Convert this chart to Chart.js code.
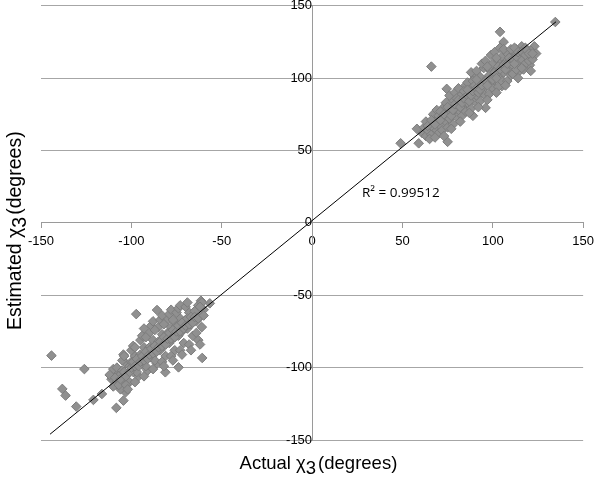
<!DOCTYPE html>
<html>
<head>
<meta charset="utf-8">
<script src="https://cdn.jsdelivr.net/npm/chart.js@4"></script>
<style>
  body { margin: 0; background: #fff; }
  #wrap { width: 600px; height: 481px; }
</style>
</head>
<body>
<div id="wrap"><canvas id="grafico"></canvas></div>
<script>
// tick labels
var xTicks = [-150, -100, -50, 0, 50, 100, 150];
var yTicks = [-150, -100, -50, 0, 50, 100, 150];

// upper cluster (positive angles)
var upperX = [134.6, 104, 106, 123, 66, 74.5, 96, 49, 120.5, 116, 75, 58, 59, 114, 105, 89,
  61, 62, 63, 64, 65, 63, 66, 65,
  67, 68, 69, 70, 67, 69, 70, 68, 70,
  71, 72, 73, 74, 75, 72, 74, 75, 73, 71,
  76, 77, 78, 79, 80, 76, 78, 80, 77, 79, 80,
  81, 82, 83, 84, 85, 81, 83, 85, 82, 84, 85,
  86, 87, 88, 89, 90, 86, 88, 90, 87, 89, 90, 88,
  91, 92, 93, 94, 95, 91, 93, 95, 92, 94, 95, 93,
  96, 97, 98, 99, 100, 96, 98, 100, 97, 99, 100, 98,
  101, 102, 103, 104, 105, 101, 103, 105, 102, 104, 105, 103,
  106, 107, 108, 109, 110, 106, 108, 110, 107, 109, 110,
  111, 112, 113, 114, 115, 111, 113, 115, 112, 114,
  116, 117, 118, 119, 120, 117, 121, 118, 116, 122, 124, 121,
  64, 66, 68, 71, 73, 75, 77, 78, 79, 81, 82, 83, 84, 86, 87, 88, 89, 90, 91, 92,
  93, 94, 96, 97, 98, 99, 100, 101, 102, 103, 104, 106, 107, 108, 109, 111, 112, 113,
  114, 116, 118, 119, 120, 122, 97, 102, 91, 86];
var upperY = [138.8, 132, 125, 122, 108, 92.6, 79.5, 55, 109, 122, 56, 65, 55, 104, 94.5, 74,
  62, 66, 60, 64, 68, 70, 61, 58,
  66, 72, 64, 69, 75, 78, 62, 59, 74,
  67, 73, 80, 70, 76, 64, 83, 66, 60, 77,
  72, 79, 85, 75, 81, 88, 68, 73, 65, 90, 86,
  78, 84, 89, 80, 86, 93, 74, 95, 70, 91, 77,
  83, 89, 94, 85, 91, 97, 79, 100, 76, 98, 84, 104,
  88, 95, 101, 90, 97, 105, 84, 107, 80, 110, 89, 96,
  94, 100, 106, 96, 103, 112, 89, 110, 85, 116, 93, 99,
  99, 106, 112, 101, 108, 118, 94, 115, 90, 121, 98, 104,
  104, 111, 117, 106, 113, 120, 98, 120, 95, 110, 102,
  109, 115, 120, 110, 117, 103, 106, 112, 121, 100,
  113, 118, 110, 115, 112, 106, 119, 121, 107, 113, 117, 105,
  67, 71, 68, 71, 75, 80, 74, 78, 82, 85, 80, 83, 86, 88, 84, 88, 91, 95, 93, 90,
  92, 95, 98, 95, 102, 100, 99, 104, 100, 108, 106, 109, 106, 110, 114, 113, 110, 115,
  118, 118, 116, 119, 117, 117, 108, 114, 99, 92];

// lower cluster (negative angles)
var lowerX = [-144.2, -126, -138.2, -136.4, -130.5, -121, -116.3, -108.3, -104.4, -97.3, -85.8, -61.5, -60.8, -73.9, -81.2, -104.4, -103.2, -56.6,
  -111, -110, -109, -108, -107, -106, -110, -108, -107, -112,
  -105, -104, -103, -102, -101, -105, -103, -101, -104, -102,
  -100, -99, -98, -97, -96, -100, -98, -96, -99, -97,
  -95, -94, -93, -92, -91, -95, -93, -91, -94, -92, -93,
  -90, -89, -88, -87, -86, -90, -88, -86, -89, -87, -88,
  -85, -84, -83, -82, -81, -85, -83, -81, -84, -82, -83,
  -80, -79, -78, -77, -76, -80, -78, -76, -79, -77, -78,
  -75, -74, -73, -72, -71, -75, -73, -71, -74, -72, -73,
  -70, -69, -68, -67, -66, -70, -68, -66, -69, -67,
  -65, -64, -63, -62, -61, -64, -60, -63, -61, -62,
  -109, -106, -104, -103, -101, -100, -99, -98, -97, -96, -95, -94, -93, -92, -91, -90,
  -89, -88, -87, -86, -85, -84, -83, -82, -81, -80, -79, -78, -77, -76, -75, -74,
  -73, -72, -71, -70, -69, -68, -67, -66, -65, -63, -62, -60, -87, -82, -77, -92, -98];
var lowerY = [-91.7, -101, -114.7, -119.3, -126.9, -122.3, -118.2, -127.8, -122.8, -63, -60.2, -53.8, -93.3, -99.8, -103.2, -91, -117, -55.6,
  -108, -113, -104, -110, -106, -115, -101, -100, -112, -105,
  -102, -108, -97, -104, -110, -95, -112, -99, -92, -115,
  -96, -103, -92, -99, -106, -88, -110, -94, -85, -103,
  -91, -98, -86, -95, -102, -81, -106, -89, -78, -99, -73,
  -86, -93, -81, -90, -97, -76, -101, -84, -71, -95, -68,
  -82, -88, -77, -85, -92, -72, -96, -79, -67, -99, -64,
  -76, -83, -72, -80, -88, -67, -92, -74, -63, -95, -60,
  -71, -78, -66, -75, -83, -62, -88, -69, -59, -91, -57,
  -67, -73, -62, -70, -78, -58, -84, -64, -55, -88,
  -61, -68, -57, -65, -72, -76, -60, -81, -55, -84,
  -107, -108, -103, -106, -103, -100, -96, -99, -94, -99, -96, -92, -95, -89, -94, -91,
  -87, -90, -85, -89, -86, -82, -85, -79, -84, -80, -76, -80, -74, -79, -75, -71,
  -75, -69, -73, -71, -66, -70, -65, -69, -65, -66, -58, -64, -74, -70, -67, -79, -86];

// linear trend line ends
var trendX = [-145, 135];
var trendY = [-146, 139];

var rSquared = 'R² = 0.99512';

function pts(xs, ys) {
  return xs.map(function (x, i) { return { x: x, y: ys[i] }; });
}

// axis titles and R² label
var textPlugin = {
  id: 'textos',
  afterDraw: function (chart) {
    var ctx = chart.ctx;
    ctx.save();
    ctx.fillStyle = '#000';
    ctx.textBaseline = 'alphabetic';

    function drawTitle(x, y, rotate, size) {
      ctx.save();
      ctx.translate(x, y);
      if (rotate) ctx.rotate(-Math.PI / 2);
      ctx.font = size + 'px "Liberation Sans", Arial, sans-serif';
      var first = rotate ? 'Estimated χ' : 'Actual χ';
      var a = ctx.measureText(first).width;
      var b = ctx.measureText('3').width;
      var c = ctx.measureText(' (degrees)').width;
      var start = -(a + b + c) / 2;
      ctx.textAlign = 'left';
      ctx.fillText(first, start, 0);
      ctx.fillText('3', start + a, 5);
      ctx.fillText('(degrees)', start + a + b + 2, 0);
      ctx.restore();
    }
    drawTitle(320, 469, false, 18.5);
    drawTitle(21, 229, true, 19.5);

    ctx.font = '13.5px "Open Sans", sans-serif';
    ctx.textAlign = 'left';
    ctx.fillText(rSquared, 362, 197);
    ctx.restore();
  }
};

var ctx = document.querySelector('#grafico').getContext('2d');
var chart = new Chart(ctx, {
  type: 'scatter',
  data: {
    datasets: [
      {
        label: 'trend',
        type: 'line',
        data: pts(trendX, trendY),
        borderColor: '#000',
        borderWidth: 1,
        pointRadius: 0,
        fill: false,
        order: 0
      },
      {
        label: 'upper',
        data: pts(upperX, upperY),
        pointStyle: 'rectRot',
        pointRadius: 4.8,
        backgroundColor: '#909090',
        borderColor: '#7c7c7c',
        borderWidth: 1,
        order: 1
      },
      {
        label: 'lower',
        data: pts(lowerX, lowerY),
        pointStyle: 'rectRot',
        pointRadius: 4.8,
        backgroundColor: '#909090',
        borderColor: '#7c7c7c',
        borderWidth: 1,
        order: 1
      }
    ]
  },
  options: {
    responsive: true,
    maintainAspectRatio: false,
    animation: false,
    layout: { padding: { left: 41, right: 11, top: 5, bottom: 41 } },
    plugins: { legend: { display: false }, tooltip: { enabled: false } },
    scales: {
      x: {
        type: 'linear',
        min: -150,
        max: 150,
        position: { y: 0 },
        afterBuildTicks: function (s) { s.ticks = xTicks.map(function (v) { return { value: v }; }); },
        ticks: { color: '#000', padding: 6, font: { size: 13, family: '"Liberation Sans", Arial, sans-serif' } },
        grid: { drawOnChartArea: false, drawTicks: true, tickLength: 5, color: '#9a9a9a' },
        border: { color: '#9a9a9a' }
      },
      y: {
        type: 'linear',
        min: -150,
        max: 150,
        position: { x: 0 },
        afterBuildTicks: function (s) { s.ticks = yTicks.map(function (v) { return { value: v }; }); },
        afterFit: function (s) { s.paddingTop = 0; s.paddingBottom = 0; },
        ticks: { color: '#000', padding: 4, font: { size: 13, family: '"Liberation Sans", Arial, sans-serif' } },
        grid: { drawTicks: false, color: '#a6a6a6' },
        border: { color: '#9a9a9a' }
      }
    }
  },
  plugins: [textPlugin]
});
</script>
</body>
</html>
